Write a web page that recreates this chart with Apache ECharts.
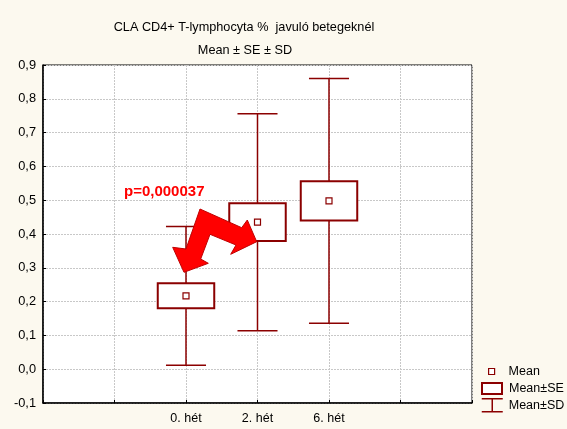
<!DOCTYPE html>
<html>
<head>
<meta charset="utf-8">
<script src="https://cdn.jsdelivr.net/npm/echarts@6/dist/echarts.min.js"></script>
<style>
  html, body { margin: 0; padding: 0; background: #fcf9ef; }
  #chart { width: 567px; height: 429px; }
</style>
</head>
<body>
<div id="chart"></div>
<script>
// weeks on the x axis (position on the value axis)
const weekPos = [0, 1, 2];
const weekLabels = ['0. hét', '2. hét', '6. hét'];
// mean, standard error, standard deviation per week
const means = [0.217, 0.435, 0.498];
const seVals = [0.037, 0.056, 0.058];
const sdVals = [0.205, 0.321, 0.362];

const dark = '#8b0000';
const fontFam = '"Liberation Sans", Arial, sans-serif';

const chart = echarts.init(document.getElementById('chart'));

let seData = weekPos.map((x, i) => [x, means[i], seVals[i]]);
let sdData = weekPos.map((x, i) => [x, means[i], sdVals[i]]);
let meanData = weekPos.map((x, i) => [x, means[i]]);

function fmtY(v) {
  if (Math.abs(v) < 1e-9) return '0,0';
  return v.toFixed(1).replace('.', ',');
}

let legendText = { fontSize: 12.5, color: '#000', fontFamily: fontFam };

let option = {
  backgroundColor: '#fcf9ef',
  animation: false,
  title: [
    {
      text: 'CLA CD4+ T-lymphocyta %  javuló betegeknél',
      left: 239, top: 16, textAlign: 'center',
      textStyle: { fontSize: 12.7, fontWeight: 'normal', color: '#000', fontFamily: fontFam }
    },
    {
      text: 'Mean ± SE ± SD',
      left: 240, top: 39, textAlign: 'center',
      textStyle: { fontSize: 12.7, fontWeight: 'normal', color: '#000', fontFamily: fontFam }
    }
  ],
  grid: {
    left: 43, right: 95, top: 65, bottom: 26,
    show: true, backgroundColor: '#fff', borderColor: '#000', borderWidth: 1
  },
  legend: [
    {
      data: [{ name: 'Mean', icon: 'rect', itemStyle: { color: '#fff', borderColor: dark, borderWidth: 1.2 } }],
      left: 488, top: 365, padding: 0, itemWidth: 6, itemHeight: 6, itemGap: 0, selectedMode: false,
      textStyle: Object.assign({ padding: [0, 0, 0, 9] }, legendText)
    },
    {
      data: [{ name: 'Mean±SE', icon: 'rect', itemStyle: { color: '#fff', borderColor: dark, borderWidth: 2 } }],
      left: 481, top: 382, padding: 0, itemWidth: 20, itemHeight: 11, selectedMode: false,
      textStyle: Object.assign({ padding: [0, 0, 0, 2] }, legendText)
    },
    {
      data: [{
        name: 'Mean±SD',
        icon: 'path://M0,0 L20,0 M10,0 L10,12 M0,12 L20,12',
        itemStyle: { color: 'transparent', borderColor: dark, borderWidth: 1.5 }
      }],
      left: 481, top: 398, padding: 0, itemWidth: 21, itemHeight: 13, selectedMode: false, symbolKeepAspect: false,
      textStyle: Object.assign({ padding: [0, 0, 0, 1] }, legendText)
    }
  ],
  xAxis: {
    type: 'value', min: -2, max: 4, interval: 1,
    axisLine: { show: true, onZero: false, lineStyle: { color: '#000', width: 1.5 } },
    axisTick: { show: true, inside: true, length: 3, lineStyle: { color: '#000' } },
    axisLabel: {
      fontSize: 12.5, color: '#000', fontFamily: fontFam, margin: 9,
      formatter: function (v) {
        let k = weekPos.indexOf(v);
        return k >= 0 ? weekLabels[k] : '';
      }
    },
    splitLine: { show: true, lineStyle: { color: '#c8c8c8', type: [2, 1] } }
  },
  yAxis: {
    type: 'value', min: -0.1, max: 0.9, interval: 0.1,
    axisLine: { show: true, onZero: false, lineStyle: { color: '#000', width: 1.5 } },
    axisTick: { show: true, inside: true, length: 3, lineStyle: { color: '#000' } },
    axisLabel: { fontSize: 12.8, color: '#000', fontFamily: fontFam, margin: 7, formatter: fmtY },
    splitLine: { show: true, lineStyle: { color: '#c8c8c8', type: [2, 1] } }
  },
  series: [
    {
      name: 'Mean±SD',
      type: 'custom',
      data: sdData,
      z: 2,
      renderItem: function (params, api) {
        let x = api.value(0), m = api.value(1), d = api.value(2);
        let top = api.coord([x, m + d]);
        let bot = api.coord([x, m - d]);
        let half = api.size([0.56, 0])[0] / 2;
        let st = { stroke: dark, lineWidth: 1.5 };
        return {
          type: 'group',
          children: [
            { type: 'line', shape: { x1: top[0], y1: top[1], x2: bot[0], y2: bot[1] }, style: st },
            { type: 'line', shape: { x1: top[0] - half, y1: top[1], x2: top[0] + half, y2: top[1] }, style: st },
            { type: 'line', shape: { x1: bot[0] - half, y1: bot[1], x2: bot[0] + half, y2: bot[1] }, style: st }
          ]
        };
      }
    },
    {
      name: 'Mean±SE',
      type: 'custom',
      data: seData,
      z: 3,
      renderItem: function (params, api) {
        let x = api.value(0), m = api.value(1), e = api.value(2);
        let top = api.coord([x, m + e]);
        let bot = api.coord([x, m - e]);
        let w = api.size([0.79, 0])[0];
        return {
          type: 'rect',
          shape: { x: top[0] - w / 2, y: top[1], width: w, height: bot[1] - top[1] },
          style: { fill: '#fff', stroke: dark, lineWidth: 2 }
        };
      }
    },
    {
      name: 'Mean',
      type: 'scatter',
      data: meanData,
      z: 4,
      symbol: 'rect',
      symbolSize: 6,
      itemStyle: { color: '#fff', borderColor: dark, borderWidth: 1.2, opacity: 1 }
    }
  ],
  graphic: [
    {
      // bent double arrow annotation
      type: 'polygon',
      z: 100,
      shape: {
        points: [
          [184, 272.3], [172.7, 247.3], [186, 249], [200, 209], [241.7, 227.7],
          [247.3, 220], [256.7, 241.7], [230.7, 254.3], [236, 245], [210, 234.3],
          [200.7, 259], [208.3, 263.3]
        ]
      },
      style: { fill: '#ff0000', stroke: '#c00000', lineWidth: 1 }
    },
    {
      type: 'text',
      z: 100,
      left: 124, top: 184,
      style: { text: 'p=0,000037', fill: '#ff0000', font: 'bold 15px ' + fontFam }
    }
  ]
};

chart.setOption(option);
</script>
</body>
</html>
